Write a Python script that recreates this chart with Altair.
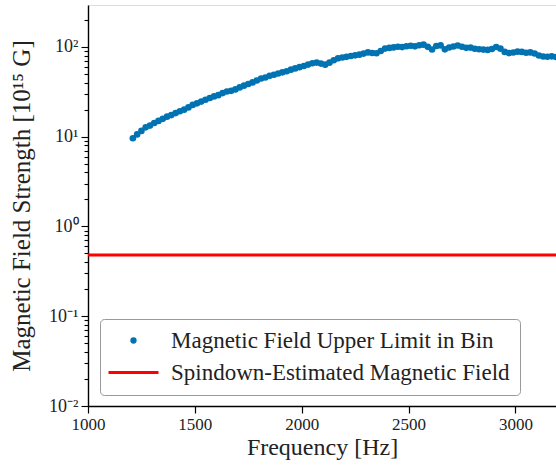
import altair as alt
import pandas as pd

freq = [1210, 1230, 1250, 1270, 1290, 1310, 1330, 1350, 1370, 1390,
        1410, 1430, 1450, 1470, 1490, 1510, 1530, 1550, 1570, 1590,
        1610, 1630, 1650, 1670, 1690, 1710, 1730, 1750, 1770, 1790,
        1810, 1830, 1850, 1870, 1890, 1910, 1930, 1950, 1970, 1990,
        2010, 2030, 2050, 2070, 2090, 2110, 2130, 2150, 2170, 2190,
        2210, 2230, 2250, 2270, 2290, 2310, 2330, 2350, 2370, 2390,
        2410, 2430, 2450, 2470, 2490, 2510, 2530, 2550, 2570, 2590,
        2610, 2630, 2650, 2670, 2690, 2710, 2730, 2750, 2770, 2790,
        2810, 2830, 2850, 2870, 2890, 2910, 2930, 2950, 2970, 2990,
        3010, 3030, 3050, 3070, 3090, 3110, 3130, 3150, 3170, 3190]
field_upper = [9.6, 10.6, 11.6, 12.7, 13.3, 14.2, 15.0, 15.8, 16.7, 17.4,
               18.3, 19.2, 20.0, 21.2, 22.6, 23.5, 24.6, 25.8, 27.0, 28.1,
               29.0, 30.6, 31.9, 32.4, 33.6, 35.4, 37.0, 38.6, 40.2, 42.3,
               44.5, 45.6, 47.6, 48.9, 50.5, 52.1, 53.6, 55.8, 57.6, 59.5,
               61.3, 63.5, 65.8, 66.9, 65.2, 63.4, 66.8, 71.0, 74.6, 76.2,
               77.5, 79.1, 80.6, 82.0, 84.3, 86.8, 85.6, 84.9, 90.0, 95.8,
               97.5, 98.8, 100.3, 99.6, 101.8, 103.0, 101.5, 104.2, 106.0, 100.2,
               93.5, 102.4, 104.0, 94.0, 98.5, 101.2, 103.6, 100.4, 97.6, 98.2,
               95.4, 94.1, 93.3, 92.6, 94.8, 99.7, 95.6, 88.0, 85.4, 86.7,
               88.5, 87.9, 86.2, 86.8, 84.5, 80.3, 78.1, 77.6, 78.5, 77.2]
spindown_value = [0.48]
series_names = ["Magnetic Field Upper Limit in Bin", "Spindown-Estimated Magnetic Field"]
x_ticks = [1000, 1500, 2000, 2500, 3000]
y_major = [0.01, 0.1, 1, 10, 100]
y_ticks = [0.01, 0.02, 0.03, 0.04, 0.05, 0.06, 0.07, 0.08, 0.09,
           0.1, 0.2, 0.3, 0.4, 0.5, 0.6, 0.7, 0.8, 0.9,
           1, 2, 3, 4, 5, 6, 7, 8, 9,
           10, 20, 30, 40, 50, 60, 70, 80, 90, 100, 200]

FONT = "Liberation Serif"
BLUE = "#0173b2"
RED = "#ff0000"
TXT = "#222222"
LINE_PATH = "M-7.9,-0.47L7.9,-0.47L7.9,0.47L-7.9,0.47Z"

pts = pd.DataFrame({"f": freq, "B": field_upper, "series": series_names[0]})
spin = pd.DataFrame({"B": spindown_value})

major_test = "indexof([0.01,0.1,1,10,100], datum.value) >= 0"
y_label_expr = ("datum.value == 100 ? '10²' : datum.value == 10 ? '10¹' : "
                "datum.value == 1 ? '10⁰' : datum.value == 0.1 ? '10⁻¹' : "
                "datum.value == 0.01 ? '10⁻²' : ''")

x_scale = alt.Scale(domain=[1000, 3190], nice=False, zero=False)
y_scale = alt.Scale(type="log", domain=[0.01, 293], nice=False)

legend = alt.Legend(
    title=None, orient="none", legendX=12, legendY=314,
    labelFont=FONT, labelFontSize=23, labelColor=TXT, labelLimit=500,
    symbolSize=40, symbolOpacity=1, symbolStrokeWidth=0,
    symbolOffset=12, labelOffset=26, rowPadding=8,
    padding=10, strokeColor="#999999", fillColor="white",
    cornerRadius=4,
)

x_axis = alt.Axis(values=x_ticks, title="Frequency [Hz]", grid=False, format="d",
                  labelFont=FONT, labelFontSize=17, labelColor=TXT,
                  titleFont=FONT, titleFontSize=24, titleFontWeight="normal",
                  titleColor=TXT, tickColor="black", domainColor="black",
                  tickSize=7, tickWidth=1.2, domainWidth=1.4, labelPadding=3,
                  titlePadding=3, labelFlush=False)

y_axis = alt.Axis(values=y_ticks, title="Magnetic Field Strength [10¹⁵ G]",
                  grid=False, labelExpr=y_label_expr,
                  labelFont=FONT, labelFontSize=18, labelColor=TXT,
                  titleFont=FONT, titleFontSize=25, titleFontWeight="normal",
                  titleColor=TXT, tickColor="black", domainColor="black",
                  tickSize={"condition": {"test": major_test, "value": 7}, "value": 4},
                  tickWidth=1.1, domainWidth=1.4, labelPadding=3,
                  titlePadding=14, labelFlush=False)

points = alt.Chart(pts).mark_point(filled=True, size=44, opacity=1, strokeWidth=0).encode(
    x=alt.X("f:Q", scale=x_scale, axis=x_axis),
    y=alt.Y("B:Q", scale=y_scale, axis=y_axis),
    color=alt.Color("series:N", scale=alt.Scale(domain=series_names, range=[BLUE, RED]),
                    legend=legend),
    shape=alt.Shape("series:N", scale=alt.Scale(domain=series_names, range=["circle", LINE_PATH]),
                    legend=legend),
)

rule = alt.Chart(spin).mark_rule(color=RED, strokeWidth=3).encode(
    y=alt.Y("B:Q", scale=y_scale),
)

chart = alt.layer(rule, points).properties(
    width=468, height=401,
    padding={"left": 88, "top": 5, "right": 0, "bottom": 55},
    autosize=alt.AutoSizeParams(type="none"),
).configure_view(
    stroke="black", strokeWidth=1.4
).configure(background="white")

chart.save("out.html", embed_options={"renderer": "svg", "actions": False})
